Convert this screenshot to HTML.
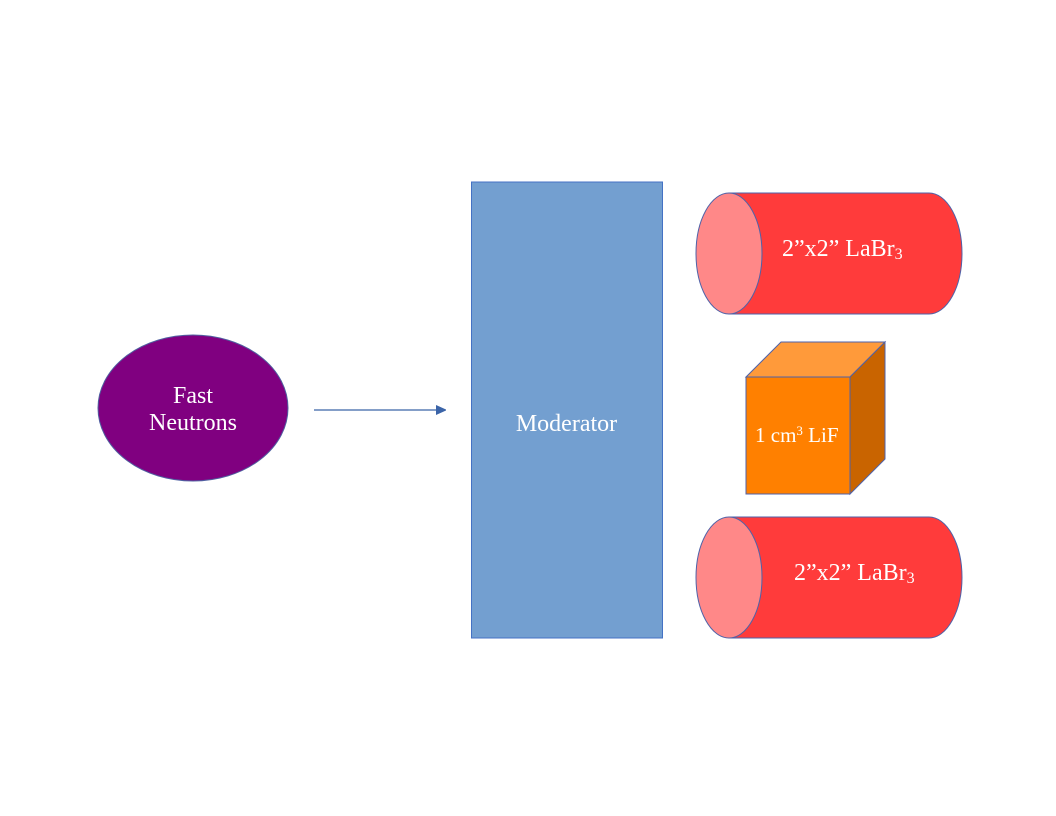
<!DOCTYPE html>
<html><head><meta charset="utf-8"><style>
html,body{margin:0;padding:0;background:#fff;}
svg{display:block;}
text{font-family:"Liberation Serif",serif;fill:#fff;}
</style></head><body>
<svg width="1056" height="816" viewBox="0 0 1056 816">
  <defs>
    <marker id="ah" markerWidth="10" markerHeight="10" refX="9" refY="5" orient="auto" markerUnits="userSpaceOnUse">
      <path d="M0,0 L11,5 L0,10 z" fill="#3b64a8"/>
    </marker>
  </defs>
  <g>
    <ellipse cx="193" cy="408" rx="95" ry="73" fill="#800080" stroke="#4f5fa0" stroke-width="1"/>
    <text x="193" y="403" font-size="24" text-anchor="middle">Fast</text>
    <text x="193" y="430" font-size="24" text-anchor="middle">Neutrons</text>
  </g>
  <line x1="314" y1="410" x2="445" y2="410" stroke="#3b64a8" stroke-width="1.3" marker-end="url(#ah)"/>
  <g>
    <rect x="471.5" y="182" width="191" height="456" fill="#739fd0" stroke="#4472c4" stroke-width="1"/>
    <text x="566.5" y="431" font-size="24" text-anchor="middle">Moderator</text>
  </g>
  <g>
    <path d="M729,193 L929,193 A33,60.5 0 0 1 929,314 L729,314 Z" fill="#ff3b3b" stroke="#4f62a8" stroke-width="1"/>
    <ellipse cx="729" cy="253.5" rx="33" ry="60.5" fill="#ff8888" stroke="#4f62a8" stroke-width="1"/>
    <text x="782" y="256" font-size="24">2”x2” LaBr<tspan font-size="16" dy="3">3</tspan></text>
  </g>
  <g>
    <polygon points="746,377 781,342 885,342 850,377" fill="#ff9a3a" stroke="#4f62a8" stroke-width="1"/>
    <polygon points="850,377 885,342 885,459 850,494" fill="#c96400" stroke="#4f62a8" stroke-width="1"/>
    <rect x="746" y="377" width="104" height="117" fill="#ff8000" stroke="#4f62a8" stroke-width="1"/>
    <text x="755" y="442" font-size="21">1 cm<tspan font-size="13" dy="-7">3</tspan><tspan dy="7"> LiF</tspan></text>
  </g>
  <g>
    <path d="M729,517 L929,517 A33,60.5 0 0 1 929,638 L729,638 Z" fill="#ff3b3b" stroke="#4f62a8" stroke-width="1"/>
    <ellipse cx="729" cy="577.5" rx="33" ry="60.5" fill="#ff8888" stroke="#4f62a8" stroke-width="1"/>
    <text x="794" y="580" font-size="24">2”x2” LaBr<tspan font-size="16" dy="3">3</tspan></text>
  </g>
</svg>
</body></html>
